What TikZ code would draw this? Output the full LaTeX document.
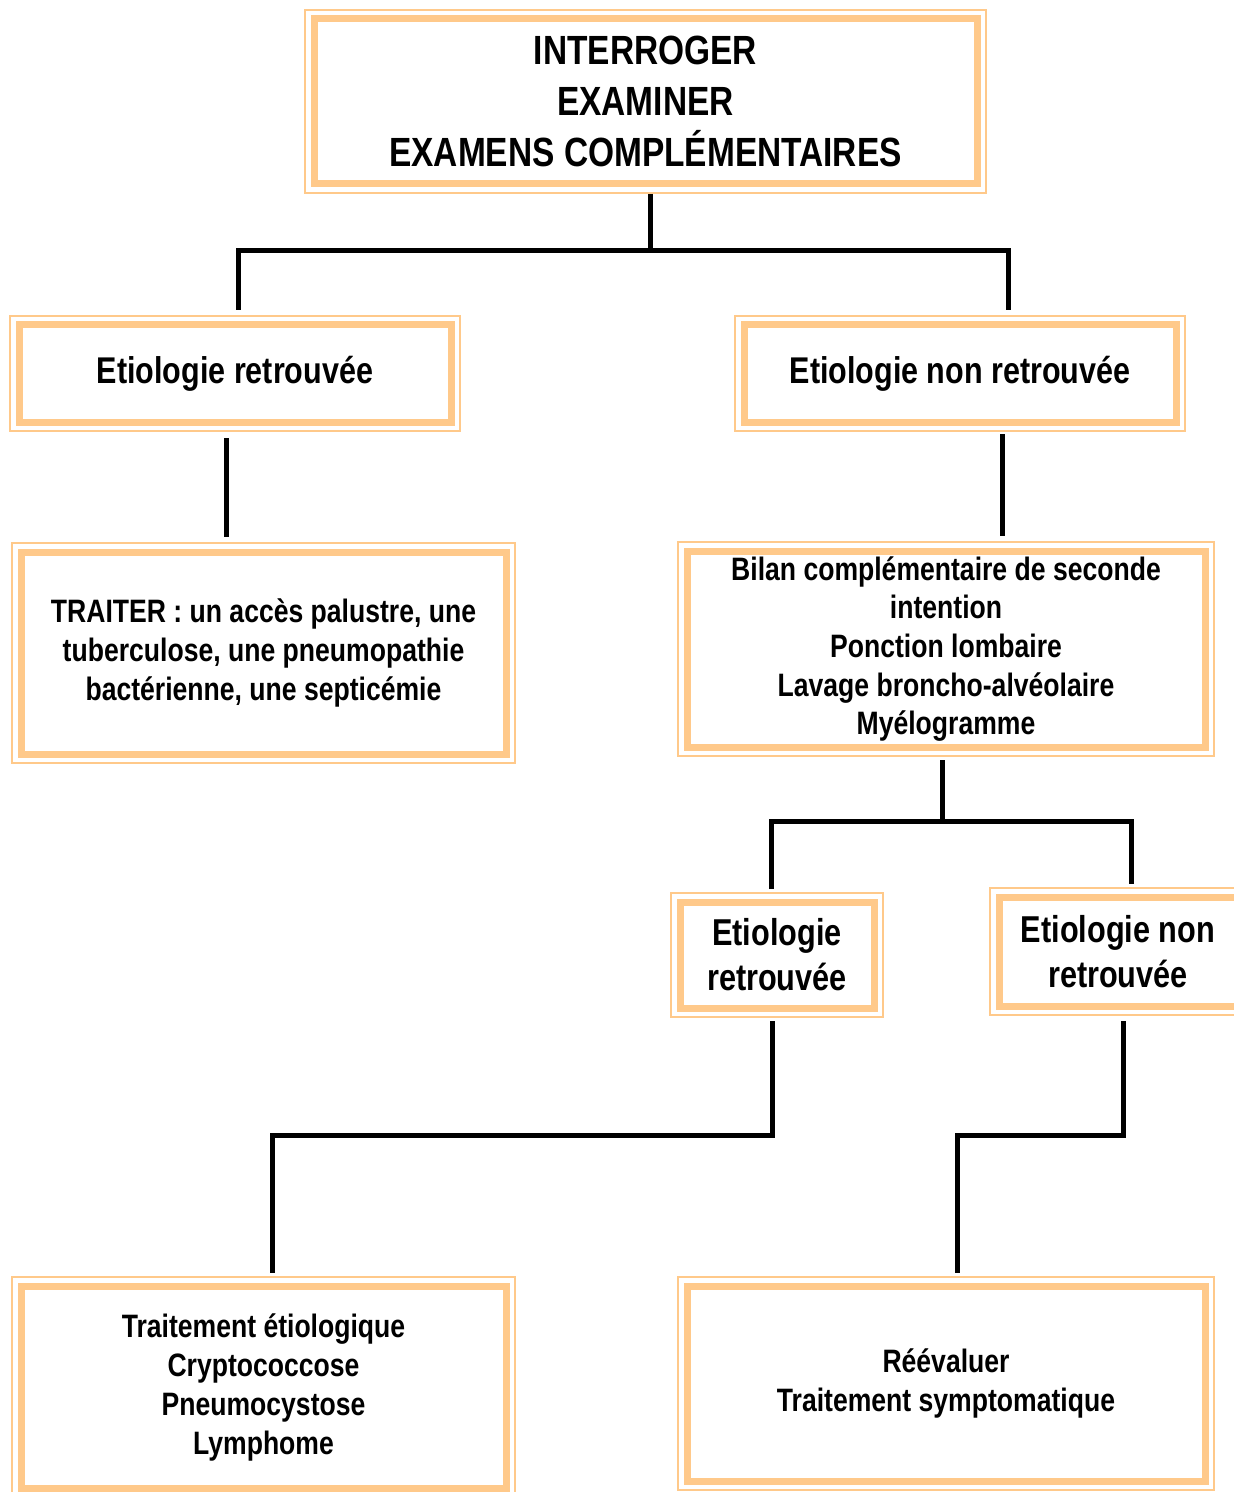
\documentclass[tikz,border=0pt]{standalone}
\usepackage{fontspec}
\setmainfont{Liberation Sans}[FakeStretch=0.82]
\usetikzlibrary{calc}
\definecolor{peach}{RGB}{255,201,138}
\tikzset{
  obox/.style={draw=peach, line width=1pt, rectangle, inner sep=0pt, align=center,
    font=\bfseries,
    path picture={\draw[peach,line width=3.5pt]
      ([shift={(4.5pt,-4.5pt)}]path picture bounding box.north west) rectangle
      ([shift={(-4.5pt,4.5pt)}]path picture bounding box.south east);}},
  conn/.style={draw=black, line width=2.5pt}
}
\begin{document}
\begin{tikzpicture}[x=0.5pt,y=-0.5pt]
\useasboundingbox (0,0) rectangle (1233,1492);
\node[obox, minimum width=340.5pt, minimum height=91.5pt, font=\bfseries\fontsize{20.4}{25.5}\selectfont] (top) at (645.5,101.5) {INTERROGER\\EXAMINER\\EXAMENS COMPLÉMENTAIRES};
\node[obox, minimum width=225pt, minimum height=57.5pt, font=\bfseries\fontsize{18.6}{22.5}\selectfont] (L1) at (235,373.5) {Etiologie retrouvée};
\node[obox, minimum width=225pt, minimum height=57.5pt, font=\bfseries\fontsize{18.6}{22.5}\selectfont] (R1) at (960,373.5) {Etiologie non retrouvée};
\node[obox, minimum width=251.5pt, minimum height=110pt, font=\bfseries\fontsize{16.2}{19.3}\selectfont] (TR) at (263.5,653) {TRAITER : un accès palustre, une\\tuberculose, une pneumopathie\\bactérienne, une septicémie};
\node[obox, minimum width=268pt, minimum height=107pt, font=\bfseries\fontsize{16.2}{19.3}\selectfont] (BI) at (946,649) {Bilan complémentaire de seconde\\intention\\Ponction lombaire\\Lavage broncho-alvéolaire\\Myélogramme};
\node[obox, minimum width=106pt, minimum height=62pt, font=\bfseries\fontsize{18.7}{22.5}\selectfont] (L2) at (777,955) {Etiologie\\retrouvée};
\node[obox, minimum width=128pt, minimum height=63.5pt, font=\bfseries\fontsize{18.7}{22.5}\selectfont] (R2) at (1118,951.5) {Etiologie non\\retrouvée};
\node[obox, minimum width=251.5pt, minimum height=110pt, font=\bfseries\fontsize{16.2}{19.5}\selectfont] (BL) at (263.5,1387) {Traitement étiologique\\Cryptococcose\\Pneumocystose\\Lymphome};
\node[obox, minimum width=268pt, minimum height=106.5pt, font=\bfseries\fontsize{16.2}{19.5}\selectfont] (BR) at (946,1383.5) {Réévaluer\\Traitement symptomatique};
% connectors
\coordinate (j1) at (650,251);
\coordinate (hL) at (238,251);
\coordinate (hR) at (1008,251);
\draw[conn] (top.south -| j1) -- (j1);
\draw[conn] ($(L1.north -| hL)+(0,-5)$) -- (hL) -- (hR) -- ($(R1.north -| hR)+(0,-5)$);
\coordinate (a1) at (226,0);
\draw[conn] ($(L1.south -| a1)+(0,6)$) -- ($(TR.north -| a1)+(0,-5)$);
\coordinate (a2) at (1002,0);
\draw[conn] ($(R1.south -| a2)+(0,2)$) -- ($(BI.north -| a2)+(0,-5)$);
\coordinate (b0) at (942,821);
\coordinate (bL) at (771,821);
\coordinate (bR) at (1131,821);
\draw[conn] ($(BI.south -| b0)+(0,3)$) -- (b0);
\draw[conn] ($(L2.north -| bL)+(0,-3)$) -- (bL) -- (bR) -- ($(R2.north -| bR)+(0,-3)$);
\coordinate (cL) at (772,1135);
\coordinate (cL2) at (272,1135);
\draw[conn] ($(L2.south -| cL)+(0,3)$) -- (cL) -- (cL2) -- ($(BL.north -| cL2)+(0,-3)$);
\coordinate (dR) at (1123,1135);
\coordinate (dL) at (957,1135);
\draw[conn] ($(R2.south -| dR)+(0,5)$) -- (dR) -- (dL) -- ($(BR.north -| dL)+(0,-3)$);
\end{tikzpicture}
\end{document}
